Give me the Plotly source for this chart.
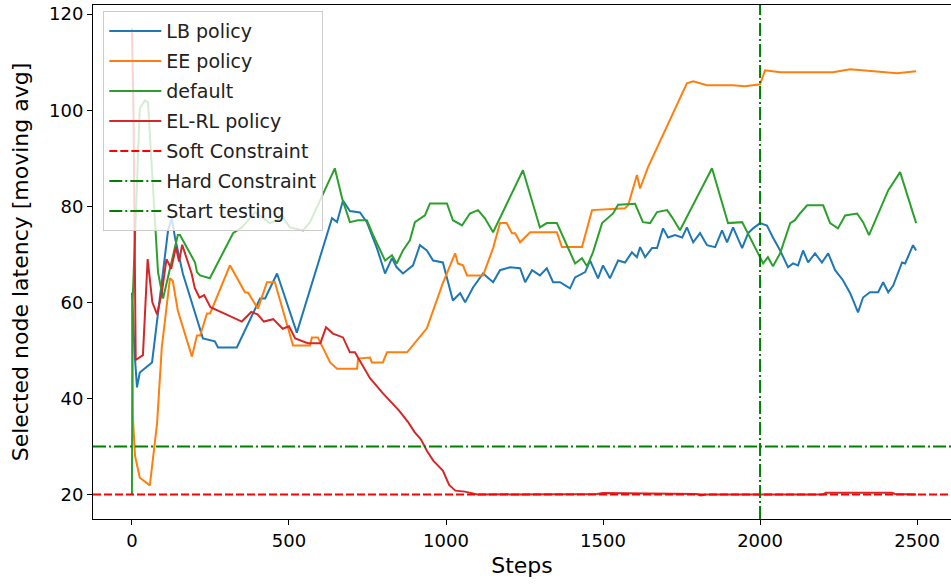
import plotly.graph_objects as go

# ---- data ----
lb_x = [0, 8, 16, 25, 64, 83, 115, 127, 137, 162, 226, 264, 274, 334, 408, 424, 462, 525, 637, 653, 672, 694,
        726, 748, 780, 806, 828, 843, 863, 895, 917, 939, 959, 990, 1022, 1045, 1061, 1086, 1118, 1150, 1172,
        1204, 1236, 1252, 1274, 1299, 1321, 1341, 1363, 1395, 1411, 1443, 1459, 1484, 1500, 1522, 1548, 1570,
        1592, 1608, 1618, 1634, 1656, 1672, 1691, 1707, 1729, 1752, 1767, 1787, 1809, 1831, 1857, 1879, 1895,
        1914, 1943, 1962, 1978, 2000, 2022, 2041, 2064, 2089, 2105, 2121, 2137, 2153, 2175, 2197, 2217, 2239,
        2264, 2287, 2312, 2328, 2350, 2376, 2392, 2408, 2424, 2452, 2462, 2487, 2497]
lb_y = [62, 50, 42.3, 45.4, 47.5, 57.7, 75, 77.5, 73.5, 66, 52.5, 51.9, 50.6, 50.6, 60.8, 60.8, 66, 53.7, 77.5,
        76.7, 81.2, 79, 78.7, 76.7, 71.3, 66, 69.2, 67.3, 66, 67.7, 71.9, 70.8, 68.7, 68.3, 60.4, 61.9, 60,
        63.1, 66, 64.2, 66.7, 67.3, 67.1, 64.2, 66.7, 65.6, 67.1, 64.2, 64.2, 62.9, 65.2, 66.3, 68.7, 65, 67.7,
        65, 68.7, 68.3, 70.4, 69.4, 71.5, 69.4, 71.3, 71.3, 75.4, 73.5, 74, 73.5, 75.6, 72.5, 74.4, 71.9, 71.5,
        75, 72.5, 75.6, 71.3, 74.4, 75.4, 76.5, 76, 73.5, 70.8, 67.3, 68.1, 67.7, 70.8, 68.3, 70.2, 68.3, 70.2,
        66.7, 64.6, 61.9, 57.9, 61, 62.1, 62.1, 64.2, 62.1, 63.5, 68.3, 68.1, 71.9, 70.8]

ee_x = [0, 3, 10, 25, 57, 80, 95, 121, 130, 146, 191, 207, 217, 239, 249, 312, 360, 370, 401, 430, 455, 513,
        567, 573, 592, 631, 653, 717, 720, 758, 764, 799, 812, 876, 939, 965, 990, 1029, 1038, 1054, 1067, 1118,
        1150, 1172, 1193, 1210, 1220, 1236, 1268, 1353, 1369, 1427, 1433, 1465, 1570, 1580, 1608, 1618, 1643,
        1767, 1787, 1831, 1914, 1952, 2000, 2016, 2064, 2086, 2232, 2287, 2372, 2436, 2497]
ee_y = [60, 36, 28, 23.5, 21.9, 34.8, 50.6, 65, 64.5, 58.3, 48.7, 53.1, 53.1, 57.7, 57.7, 67.7, 62.1, 62, 58.7,
        64.2, 64.2, 51, 51, 52.7, 52.7, 47.5, 46.2, 46.2, 48.3, 48.5, 47.5, 47.5, 49.6, 49.6, 54.6, 59.4, 64,
        70.2, 68.1, 67.7, 65.6, 65.6, 71.3, 76.5, 76.5, 74.4, 74.4, 72.5, 74.6, 74.6, 71.5, 71.5, 71.5, 79.2,
        79.6, 80.2, 86.5, 83.7, 88.1, 105.6, 106, 105.2, 105.2, 105, 105.4, 108.3, 107.9, 107.9, 107.9, 108.5,
        108.1, 107.7, 108.1]

df_x = [0, 2, 25, 41, 51, 73, 83, 99, 146, 153, 201, 207, 217, 248, 322, 350, 392, 439, 481, 503, 545, 567,
        646, 669, 694, 720, 748, 768, 806, 828, 843, 863, 885, 901, 933, 949, 1003, 1022, 1051, 1076, 1102,
        1124, 1150, 1245, 1299, 1321, 1353, 1411, 1433, 1449, 1468, 1497, 1516, 1532, 1548, 1602, 1627, 1650,
        1672, 1704, 1720, 1745, 1847, 1898, 1943, 2000, 2010, 2025, 2041, 2064, 2096, 2111, 2127, 2150, 2201,
        2223, 2248, 2271, 2309, 2328, 2347, 2408, 2446, 2497]
df_y = [20, 60, 100.4, 102, 101.7, 76.7, 66.3, 60.8, 74, 74, 68.3, 66.3, 65.6, 65, 74.4, 75.6, 78.8, 76.5,
        77.7, 75.6, 75, 76.7, 87.9, 81.7, 76.7, 77.1, 77.1, 74, 68.7, 69.8, 68.1, 70.8, 72.9, 76.7, 78.1, 80.6,
        80.6, 77.1, 76, 78.5, 79.2, 77.5, 74.6, 87.5, 75.6, 76.5, 76.5, 68.1, 69.2, 67.5, 70.4, 76.5, 77.5,
        78.5, 80.3, 80.5, 76.7, 76.5, 78.8, 79.2, 77.7, 75, 87.9, 76.5, 76.7, 69.4, 68.1, 69.4, 67.5, 70.2,
        76.5, 77.1, 78.5, 80.2, 80.2, 76.5, 75.4, 78.1, 78.5, 76.7, 74, 83.3, 87.1, 76.5]

el_x = [0, 5, 12, 25, 35, 50, 65, 80, 95, 110, 125, 140, 150, 160, 175, 190, 200, 215, 230, 250, 300, 350,
        380, 400, 420, 450, 480, 500, 520, 540, 560, 600, 618, 640, 672, 694, 710, 758, 800, 850, 880, 900,
        920, 940, 960, 990, 1010, 1030, 1060, 1100, 1300, 1480, 1500, 1650, 1680, 1800, 1810, 1830, 2200,
        2210, 2420, 2430, 2497]
el_y = [117, 100, 48, 48.5, 49, 69, 60, 57.5, 62, 69, 67, 71.5, 68.5, 72, 69, 66, 63, 61, 61.5, 59, 57.5, 56,
        58, 57.5, 56, 56.5, 54.5, 55, 52.5, 52, 51.5, 51.5, 54.8, 53.5, 52.7, 49.6, 49.6, 44.2, 41, 37.5, 35,
        33, 31.5, 29, 27, 25, 22, 20.8, 20.6, 20, 20.1, 20.1, 20.3, 20.2, 20.2, 20.1, 19.8, 20, 20, 20.35,
        20.35, 20.1, 20]

soft_constraint = 20
hard_constraint = 30
start_testing = 2000

x_range = [-124, 2608]
y_range = [14.9, 121.9]
x_ticks = [0, 500, 1000, 1500, 2000, 2500]
y_ticks = [20, 40, 60, 80, 100, 120]

# ---- figure ----
fig = go.Figure()
series = [("LB policy", lb_x, lb_y, "#1f77b4"),
          ("EE policy", ee_x, ee_y, "#ff7f0e"),
          ("default", df_x, df_y, "#2ca02c"),
          ("EL-RL policy", el_x, el_y, "#d62728")]
for name, xs, ys, col in series:
    fig.add_trace(go.Scatter(x=xs, y=ys, mode="lines", name=name, legendgroup=name,
                             line=dict(color=col, width=2)))

dashdot = "13px,3px,2px,3px"
fig.add_shape(type="line", xref="x domain", yref="y", x0=0, x1=1,
              y0=soft_constraint, y1=soft_constraint,
              line=dict(color="#ff0000", width=2, dash="8px,3px"),
              showlegend=True, name="Soft Constraint", legendgroup="soft")
fig.add_shape(type="line", xref="x domain", yref="y", x0=0, x1=1,
              y0=hard_constraint, y1=hard_constraint,
              line=dict(color="#008000", width=2, dash=dashdot),
              showlegend=True, name="Hard Constraint", legendgroup="hard")
fig.add_shape(type="line", xref="x", yref="y domain", x0=start_testing, x1=start_testing,
              y0=0, y1=1,
              line=dict(color="#008000", width=2, dash=dashdot),
              showlegend=True, name="Start testing", legendgroup="start")

font_family = "DejaVu Sans"
fig.update_layout(
    width=951, height=584,
    margin=dict(l=93, r=0, t=5, b=65),
    plot_bgcolor="white", paper_bgcolor="white",
    font=dict(family=font_family, color="black", size=17),
    showlegend=True,
    legend=dict(x=0.012, y=0.988, xanchor="left", yanchor="top",
                bgcolor="rgba(255,255,255,0.8)", bordercolor="#cccccc", borderwidth=1,
                font=dict(size=19, family=font_family, color="#222222"),
                itemwidth=52, tracegroupgap=2.3),
)
fig.update_xaxes(range=x_range, tickvals=x_ticks, showgrid=False, zeroline=False,
                 showline=True, linecolor="black", linewidth=1, mirror=True,
                 ticks="outside", ticklen=5, tickcolor="black",
                 tickfont=dict(size=18),
                 title=dict(text="Steps", font=dict(size=22), standoff=8))
fig.update_yaxes(range=y_range, tickvals=y_ticks, showgrid=False, zeroline=False,
                 showline=True, linecolor="black", linewidth=1,
                 ticks="outside", ticklen=5, tickcolor="black",
                 tickfont=dict(size=18),
                 title=dict(text="Selected node latency [moving avg]", font=dict(size=22), standoff=14))

fig.write_html("out.html")
